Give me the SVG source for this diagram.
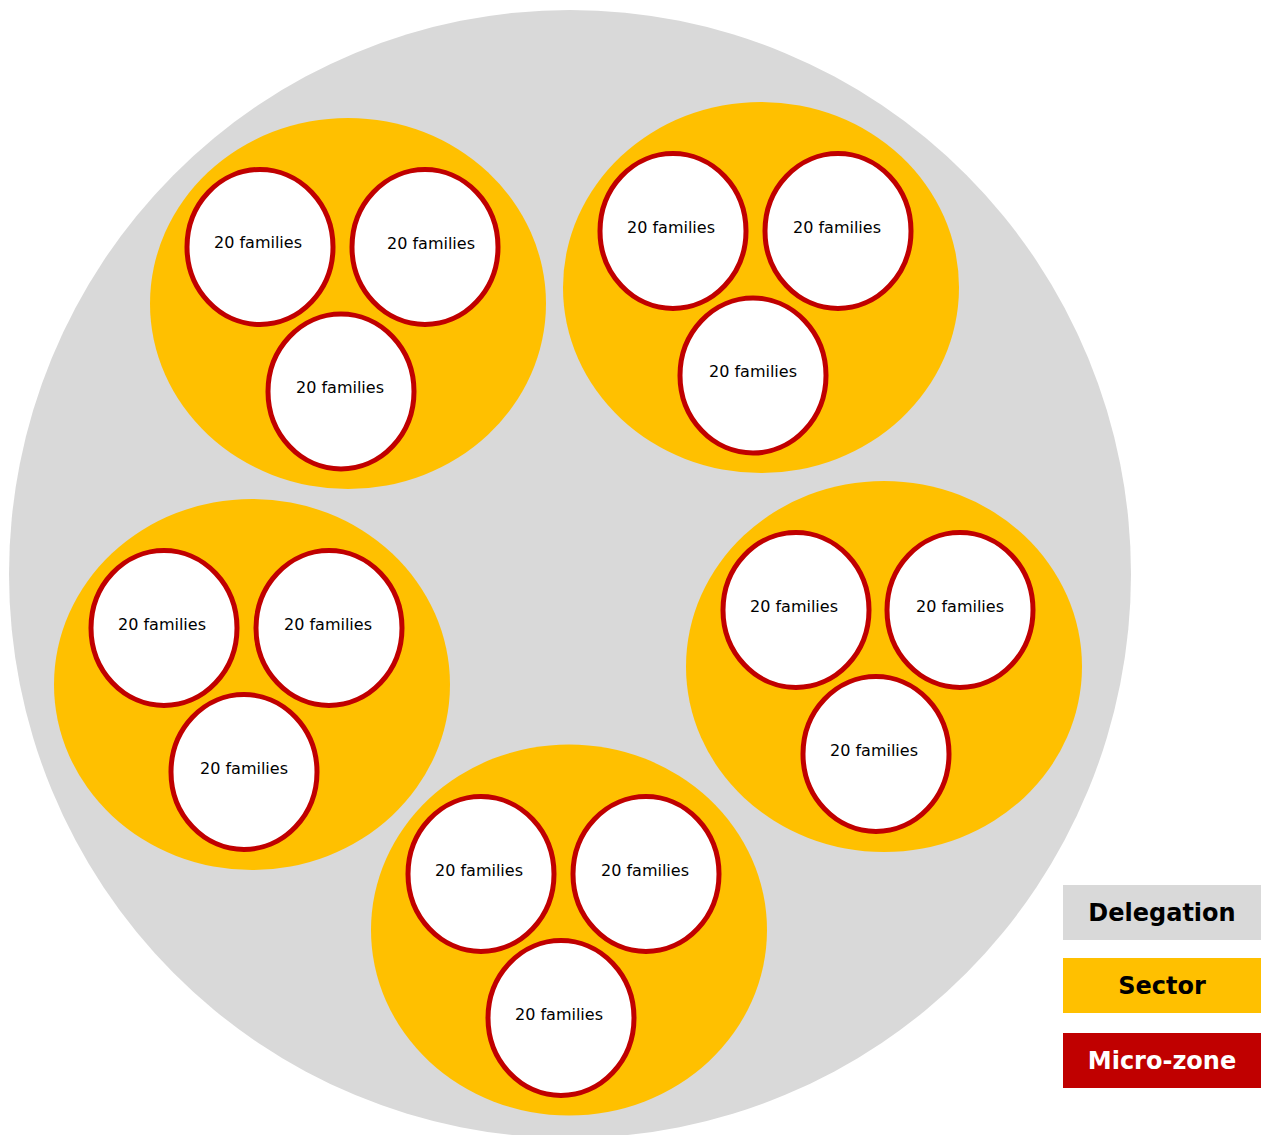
<svg xmlns="http://www.w3.org/2000/svg" width="1262" height="1135" viewBox="0 0 1262 1135">
<style>
.deleg{fill:#D9D9D9}
.sector{fill:#FFC000}
.mz{fill:#FFFFFF;stroke:#C00000;stroke-width:5}
.lbl{font-family:"DejaVu Sans",Verdana,sans-serif;font-size:16px;fill:#000;text-anchor:middle}
.leg{font-family:"DejaVu Sans",Verdana,sans-serif;font-size:24px;font-weight:bold;text-anchor:middle}
</style>
<rect width="1262" height="1135" fill="#FFFFFF"/>
<g id="delegation">
<ellipse class="deleg" cx="570" cy="574" rx="561" ry="564"/>
</g>
<g id="sector1">
<ellipse class="sector" cx="348" cy="303.5" rx="198" ry="185.5"/>
</g>
<g id="sector2">
<ellipse class="sector" cx="761" cy="287.5" rx="198" ry="185.5"/>
</g>
<g id="sector3">
<ellipse class="sector" cx="252" cy="684.5" rx="198" ry="185.5"/>
</g>
<g id="sector4">
<ellipse class="sector" cx="884" cy="666.5" rx="198" ry="185.5"/>
</g>
<g id="sector5">
<ellipse class="sector" cx="569" cy="930" rx="198" ry="185.5"/>
</g>
<g id="mz1a"><ellipse class="mz" cx="260" cy="247" rx="73" ry="77.5"/><text class="lbl" x="258" y="248">20 families</text></g>
<g id="mz1b"><ellipse class="mz" cx="425" cy="247" rx="73" ry="77.5"/><text class="lbl" x="431" y="249">20 families</text></g>
<g id="mz1c"><ellipse class="mz" cx="341" cy="391.5" rx="73" ry="77.5"/><text class="lbl" x="340" y="393">20 families</text></g>
<g id="mz2a"><ellipse class="mz" cx="673" cy="231" rx="73" ry="77.5"/><text class="lbl" x="671" y="233">20 families</text></g>
<g id="mz2b"><ellipse class="mz" cx="838" cy="231" rx="73" ry="77.5"/><text class="lbl" x="837" y="233">20 families</text></g>
<g id="mz2c"><ellipse class="mz" cx="753" cy="375.5" rx="73" ry="77.5"/><text class="lbl" x="753" y="377">20 families</text></g>
<g id="mz3a"><ellipse class="mz" cx="164" cy="628" rx="73" ry="77.5"/><text class="lbl" x="162" y="630">20 families</text></g>
<g id="mz3b"><ellipse class="mz" cx="329" cy="628" rx="73" ry="77.5"/><text class="lbl" x="328" y="630">20 families</text></g>
<g id="mz3c"><ellipse class="mz" cx="244" cy="772" rx="73" ry="77.5"/><text class="lbl" x="244" y="774">20 families</text></g>
<g id="mz4a"><ellipse class="mz" cx="796" cy="610" rx="73" ry="77.5"/><text class="lbl" x="794" y="612">20 families</text></g>
<g id="mz4b"><ellipse class="mz" cx="960" cy="610" rx="73" ry="77.5"/><text class="lbl" x="960" y="612">20 families</text></g>
<g id="mz4c"><ellipse class="mz" cx="876" cy="754" rx="73" ry="77.5"/><text class="lbl" x="874" y="756">20 families</text></g>
<g id="mz5a"><ellipse class="mz" cx="481" cy="874" rx="73" ry="77.5"/><text class="lbl" x="479" y="876">20 families</text></g>
<g id="mz5b"><ellipse class="mz" cx="646" cy="874" rx="73" ry="77.5"/><text class="lbl" x="645" y="876">20 families</text></g>
<g id="mz5c"><ellipse class="mz" cx="561" cy="1018" rx="73" ry="77.5"/><text class="lbl" x="559" y="1020">20 families</text></g>
<g id="connectors"></g>
<g id="legend">
<g id="leg-delegation"><rect x="1063" y="885" width="198" height="55" fill="#D9D9D9"/><text class="leg" x="1162" y="921" fill="#000">Delegation</text></g>
<g id="leg-sector"><rect x="1063" y="958" width="198" height="55" fill="#FFC000"/><text class="leg" x="1162" y="994" fill="#000">Sector</text></g>
<g id="leg-microzone"><rect x="1063" y="1033" width="198" height="55" fill="#C00000"/><text class="leg" x="1162" y="1069" fill="#FFFFFF">Micro-zone</text></g>
</g>
</svg>
